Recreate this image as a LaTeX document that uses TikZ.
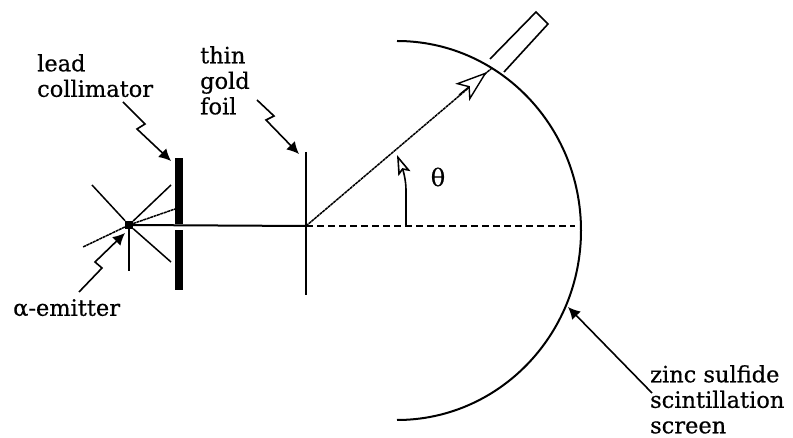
\documentclass[tikz,border=0pt]{standalone}
\usepackage{fontspec}
\setmainfont[FakeBold=0.5]{DejaVu Serif}
\usepackage{tikz}
\usetikzlibrary{calc,arrows.meta}
\tikzset{
  lbl/.style={font=\fontsize{22.5}{25.5}\selectfont,align=left,inner sep=0pt,anchor=north west},
  ray/.style={line width=1.5pt,black},
  pointer/.style={line width=1.6pt,-{Latex[length=12pt,width=12pt]}},
  openhead/.style={line width=1.4pt,-{Stealth[open,fill=white,length=32pt,width=22pt,inset=8pt]}},
}
\begin{document}
\begin{tikzpicture}[x=1pt,y=-1pt]
\useasboundingbox (0,0) rectangle (793,438);
% source and its rays
\node[fill=black,minimum size=8pt,inner sep=0pt] (emitter) at (129,225) {};
\foreach \nm/\xx/\yy in {rayA/92/185,rayB/171/185,rayC/175/209,rayD/171/262,rayE/129/271,rayF/83/247}{
  \coordinate (\nm) at (\xx,\yy);}
\foreach \nm in {rayA,rayB,rayD,rayE}{\draw[ray] (emitter)--(\nm);}
\draw[ray,dash pattern=on 3pt off 0.6pt] (emitter)--(rayC);
\draw[ray,dash pattern=on 3pt off 0.6pt] (emitter)--(rayF);
% collimator and foil
\fill[black] (175,158) rectangle (183,224);
\fill[black] (175,230) rectangle (183,290);
\coordinate (foilT) at (306,152);
\coordinate (foilB) at (306,295);
\coordinate (foilC) at (306,226);
\draw[line width=1.6pt] (foilT)--(foilB);
\draw[line width=2pt] (emitter)--(foilC);
% screen and detector
\draw[line width=2pt] (397,41) arc[start angle=-90,end angle=90,x radius=184,y radius=189.5];
\coordinate (hit) at (492,68);
\draw[line width=1.6pt] (490,59)--(536,12)--(548,24)--(504,72);
\draw[dash pattern=on 7pt off 4pt,line width=2pt] (foilC)--(575,226);
\draw[line width=1.5pt,dash pattern=on 3pt off 0.6pt] (foilC)--(hit);
\coordinate (scatBase) at (459,95);
\coordinate (scatTip) at (487,72);
\draw[openhead] (scatBase)--(scatTip);
% angle
\coordinate (angBase) at (406,226);
\coordinate (angTip) at (397,155);
\draw[line width=1.6pt,-{Stealth[open,fill=white,length=20pt,width=13pt,inset=4pt]}] (angBase)--(406,190) .. controls (406,180) and (403,170) .. (angTip);
\node[font=\fontsize{24}{24}\selectfont,inner sep=0pt] (theta) at (438,177) {θ};
% labels and pointers
\node[lbl] (lead) at (37,54) {lead\\collimator};
\node[lbl] (gold) at (200,46) {thin\\gold\\foil};
\node[lbl] (alpha) at (13,299) {α-emitter};
\node[lbl] (zinc) at (650,365) {zinc sulfide\\scintillation\\screen};
\coordinate (leadS) at (123,102);
\coordinate (leadE) at (171,161);
\draw[pointer] (leadS)--(145,124)--(137,129)--(leadE);
\coordinate (goldS) at (257,100);
\coordinate (goldE) at (299,154);
\draw[pointer] (goldS)--(274,116)--(266,120)--(goldE);
\coordinate (alphaS) at (79,292);
\coordinate (alphaE) at (125,233);
\draw[pointer] (alphaS)--(102,268)--(95,262)--(alphaE);
\coordinate (zincS) at (652,393);
\coordinate (zincE) at (568,307);
\draw[pointer] (zincS)--(zincE);
\end{tikzpicture}
\end{document}
